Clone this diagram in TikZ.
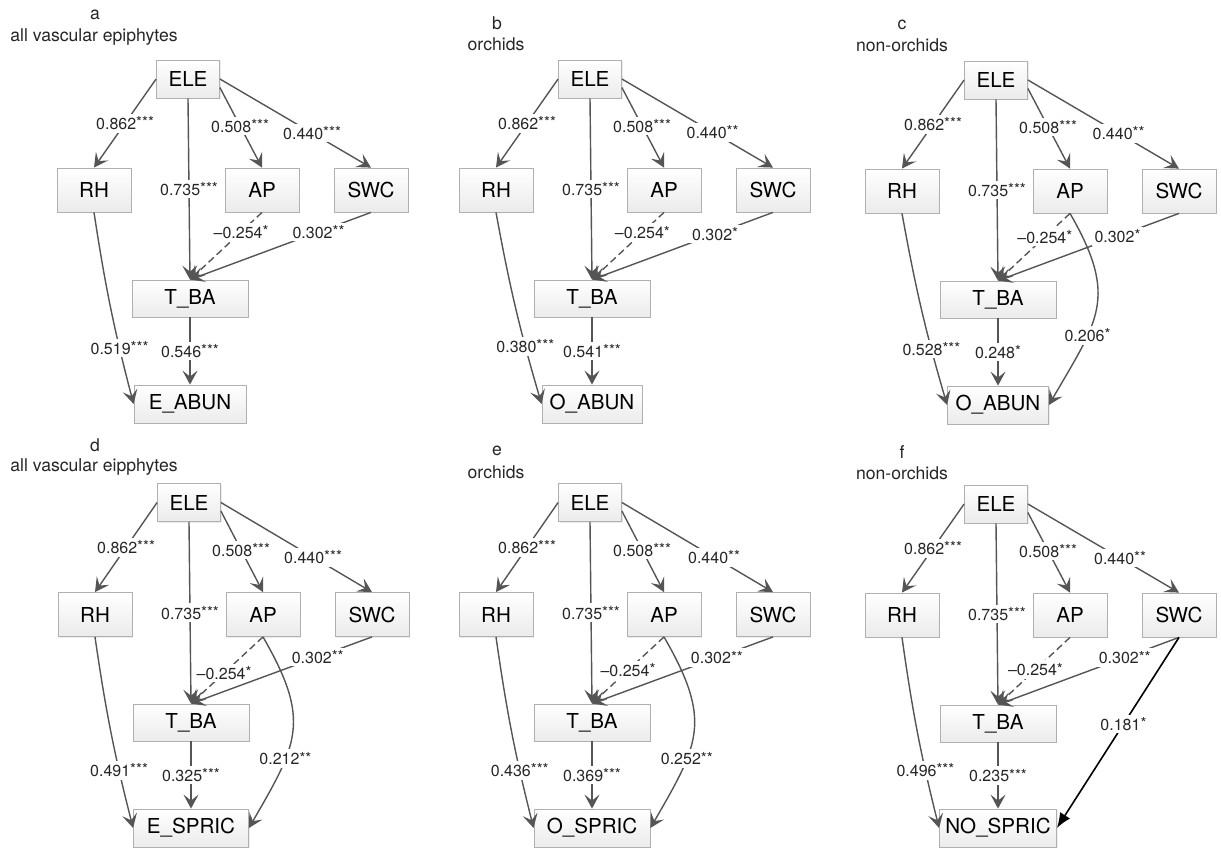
\documentclass[tikz,border=0pt]{standalone}
\usepackage{fontspec}
\setmainfont{TeX Gyre Heros}
\usetikzlibrary{arrows.meta,shadows}
\definecolor{edgegray}{HTML}{555555}
\definecolor{boxline}{HTML}{B0B0B0}
\definecolor{boxfill}{HTML}{EBEBEB}
\newcommand{\stars}[1]{\raisebox{0.9pt}{\fontsize{7.6}{7.6}\selectfont #1}}

\begin{document}
\begin{tikzpicture}[x=0.5pt, y=0.5pt,
  varbox/.style={draw=boxline, top color=white, bottom color=boxfill, inner sep=0pt,
    drop shadow={shadow xshift=0.5pt, shadow yshift=-0.5pt, opacity=0.15},
    font=\fontsize{10.3}{12}\selectfont, minimum width=37pt, minimum height=22pt},
  elebox/.style={varbox, minimum width=31.5pt, minimum height=19pt},
  tbabox/.style={varbox, minimum width=58pt, minimum height=18.5pt},
  respbox/.style={varbox, minimum width=56pt, minimum height=19pt},
  link/.style={draw=edgegray, line width=0.7pt, -{Stealth[length=7pt,width=7.5pt,inset=3pt]}},
  neglink/.style={link, dash pattern=on 3.5pt off 2pt},
  strong/.style={draw=black, line width=0.8pt, -{Latex[length=7.5pt,width=6pt]}},
  coef/.style={fill=white, inner sep=1.4pt, text=black!85, font=\fontsize{8}{9}\selectfont},
  paneltitle/.style={inner sep=0pt, text=black!85, font=\fontsize{8.8}{10}\selectfont}
]
\useasboundingbox (0,0) rectangle (1221,-847);

% a -- all vascular epiphytes, abundance
\begin{scope}[shift={(188,-79)}]
\node[paneltitle] (ttl-a) at (-93,64) {a};
\node[paneltitle] (sub-a) at (-94,42) {all vascular epiphytes};
\node[elebox] (ele-a) at (0,0) {ELE};
\node[varbox] (rh-a) at (-94,-111) {RH};
\node[varbox] (ap-a) at (74,-111) {AP};
\node[varbox] (swc-a) at (183,-111) {SWC};
\node[tbabox] (tba-a) at (2,-219.5) {T\_BA};
\node[respbox] (out-a) at (2,-325) {E\_ABUN};
\draw[link] (ele-a.west) -- node[coef] {0.862\stars{***}} (rh-a.north);
\draw[link] (ele-a.south) -- node[coef] {0.735\stars{***}} (tba-a.north);
\draw[link] (ele-a.-15) -- node[coef, pos=0.48] {0.508\stars{***}} (ap-a.north);
\draw[link] (ele-a.east) -- node[coef, pos=0.61] {0.440\stars{***}} (swc-a.north);
\draw[neglink] (ap-a.south) -- node[coef, pos=0.29] {–0.254\stars{*}} (tba-a.north);
\draw[link] (swc-a.south) -- node[coef, pos=0.29] {0.302\stars{**}} (tba-a.north);
\draw[link] (rh-a.south) to[bend right=3] node[coef, pos=0.72] {0.519\stars{***}} (out-a.west);
\draw[link] (tba-a.south) -- node[coef] {0.546\stars{***}} (out-a.north);
\end{scope}

% b -- orchids, abundance
\begin{scope}[shift={(590,-79)}]
\node[paneltitle] (ttl-b) at (-93,56) {b};
\node[paneltitle] (sub-b) at (-94,35) {orchids};
\node[elebox] (ele-b) at (0,0) {ELE};
\node[varbox] (rh-b) at (-94,-111) {RH};
\node[varbox] (ap-b) at (74,-111) {AP};
\node[varbox] (swc-b) at (183,-111) {SWC};
\node[tbabox] (tba-b) at (2,-219.5) {T\_BA};
\node[respbox, minimum width=50pt] (out-b) at (2,-325) {O\_ABUN};
\draw[link] (ele-b.west) -- node[coef] {0.862\stars{***}} (rh-b.north);
\draw[link] (ele-b.south) -- node[coef] {0.735\stars{***}} (tba-b.north);
\draw[link] (ele-b.-15) -- node[coef, pos=0.48] {0.508\stars{***}} (ap-b.north);
\draw[link] (ele-b.east) -- node[coef, pos=0.6] {0.440\stars{**}} (swc-b.north);
\draw[neglink] (ap-b.south) -- node[coef, pos=0.3] {–0.254\stars{*}} (tba-b.north);
\draw[link] (swc-b.south) -- node[coef, pos=0.32] {0.302\stars{*}} (tba-b.north);
\draw[link] (rh-b.south) to[bend right=3] node[coef, pos=0.71] {0.380\stars{***}} (out-b.west);
\draw[link] (tba-b.south) -- node[coef] {0.541\stars{***}} (out-b.north);
\end{scope}

% c -- non-orchids, abundance
\begin{scope}[shift={(996,-80)}]
\node[paneltitle] (ttl-c) at (-94,55) {c};
\node[paneltitle] (sub-c) at (-94,35) {non-orchids};
\node[elebox] (ele-c) at (0,0) {ELE};
\node[varbox] (rh-c) at (-94,-111) {RH};
\node[varbox] (ap-c) at (74,-111) {AP};
\node[varbox] (swc-c) at (183,-111) {SWC};
\node[tbabox] (tba-c) at (2,-219.5) {T\_BA};
\node[respbox, minimum width=50.5pt] (out-c) at (2,-325) {O\_ABUN};
\draw[link] (ele-c.west) -- node[coef] {0.862\stars{***}} (rh-c.north);
\draw[link] (ele-c.south) -- node[coef] {0.735\stars{***}} (tba-c.north);
\draw[link] (ele-c.-15) -- node[coef, pos=0.48] {0.508\stars{***}} (ap-c.north);
\draw[link] (ele-c.east) -- node[coef, pos=0.6] {0.440\stars{**}} (swc-c.north);
\draw[neglink] (ap-c.south) -- node[coef, pos=0.35] {–0.254\stars{*}} (tba-c.north);
\draw[link] (swc-c.south) -- node[coef, pos=0.34] {0.302\stars{*}} (tba-c.north);
\draw[link] (rh-c.south) to[bend right=3] node[coef, pos=0.72] {0.528\stars{***}} (out-c.west);
\draw[link] (tba-c.south) -- node[coef] {0.248\stars{*}} (out-c.north);
\draw[link] (ap-c.south) to[out=-60, in=60, looseness=1.3] node[coef, pos=0.66] {0.206\stars{*}} (out-c.east);
\end{scope}

% d -- all vascular epiphytes, species richness
\begin{scope}[shift={(189,-502.5)}]
\node[paneltitle] (ttl-d) at (-94,57.5) {d};
\node[paneltitle] (sub-d) at (-95,35.5) {all vascular eipphytes};
\node[elebox] (ele-d) at (0,0) {ELE};
\node[varbox] (rh-d) at (-94,-112) {RH};
\node[varbox] (ap-d) at (74,-112) {AP};
\node[varbox] (swc-d) at (183,-112) {SWC};
\node[tbabox] (tba-d) at (2,-220) {T\_BA};
\node[respbox, minimum width=57.5pt] (out-d) at (2,-325.5) {E\_SPRIC};
\draw[link] (ele-d.west) -- node[coef] {0.862\stars{***}} (rh-d.north);
\draw[link] (ele-d.south) -- node[coef] {0.735\stars{***}} (tba-d.north);
\draw[link] (ele-d.-15) -- node[coef, pos=0.48] {0.508\stars{***}} (ap-d.north);
\draw[link] (ele-d.east) -- node[coef, pos=0.61] {0.440\stars{***}} (swc-d.north);
\draw[neglink] (ap-d.south) -- node[coef, pos=0.54] {–0.254\stars{*}} (tba-d.north);
\draw[link] (swc-d.south) -- node[coef, pos=0.3] {0.302\stars{**}} (tba-d.north);
\draw[link] (rh-d.south) to[bend right=3] node[coef, pos=0.71] {0.491\stars{***}} (out-d.west);
\draw[link] (tba-d.south) -- node[coef] {0.325\stars{***}} (out-d.north);
\draw[link] (ap-d.south) to[out=-60, in=60, looseness=1.3] node[coef, pos=0.66] {0.212\stars{**}} (out-d.east);
\end{scope}

% e -- orchids, species richness
\begin{scope}[shift={(590,-502.5)}]
\node[paneltitle] (ttl-e) at (-93,51.5) {e};
\node[paneltitle] (sub-e) at (-94,30.5) {orchids};
\node[elebox] (ele-e) at (0,0) {ELE};
\node[varbox] (rh-e) at (-94,-112) {RH};
\node[varbox] (ap-e) at (74,-112) {AP};
\node[varbox] (swc-e) at (183,-112) {SWC};
\node[tbabox] (tba-e) at (2,-220) {T\_BA};
\node[respbox, minimum width=58pt] (out-e) at (2,-325.5) {O\_SPRIC};
\draw[link] (ele-e.west) -- node[coef] {0.862\stars{***}} (rh-e.north);
\draw[link] (ele-e.south) -- node[coef] {0.735\stars{***}} (tba-e.north);
\draw[link] (ele-e.-15) -- node[coef, pos=0.48] {0.508\stars{***}} (ap-e.north);
\draw[link] (ele-e.east) -- node[coef, pos=0.61] {0.440\stars{**}} (swc-e.north);
\draw[neglink] (ap-e.south) -- node[coef, pos=0.5] {–0.254\stars{*}} (tba-e.north);
\draw[link] (swc-e.south) -- node[coef, pos=0.31] {0.302\stars{**}} (tba-e.north);
\draw[link] (rh-e.south) to[bend right=3] node[coef, pos=0.71] {0.436\stars{***}} (out-e.west);
\draw[link] (tba-e.south) -- node[coef] {0.369\stars{***}} (out-e.north);
\draw[link] (ap-e.south) to[out=-60, in=60, looseness=1.3] node[coef, pos=0.66] {0.252\stars{**}} (out-e.east);
\end{scope}

% f -- non-orchids, species richness
\begin{scope}[shift={(996,-504)}]
\node[paneltitle] (ttl-f) at (-94,52) {f};
\node[paneltitle] (sub-f) at (-94,31) {non-orchids};
\node[elebox] (ele-f) at (0,0) {ELE};
\node[varbox] (rh-f) at (-94,-111) {RH};
\node[varbox] (ap-f) at (74,-111) {AP};
\node[varbox] (swc-f) at (183,-111) {SWC};
\node[tbabox] (tba-f) at (2,-219.5) {T\_BA};
\node[respbox, minimum width=58.5pt] (out-f) at (2,-324) {NO\_SPRIC};
\draw[link] (ele-f.west) -- node[coef] {0.862\stars{***}} (rh-f.north);
\draw[link] (ele-f.south) -- node[coef] {0.735\stars{***}} (tba-f.north);
\draw[link] (ele-f.-15) -- node[coef, pos=0.48] {0.508\stars{***}} (ap-f.north);
\draw[link] (ele-f.east) -- node[coef, pos=0.61] {0.440\stars{**}} (swc-f.north);
\draw[neglink] (ap-f.south) -- node[coef, pos=0.48] {–0.254\stars{*}} (tba-f.north);
\draw[link] (swc-f.south) -- node[coef, pos=0.3] {0.302\stars{**}} (tba-f.north);
\draw[link] (rh-f.south) to[bend right=3] node[coef, pos=0.71] {0.496\stars{***}} (out-f.west);
\draw[link] (tba-f.south) -- node[coef] {0.235\stars{***}} (out-f.north);
\draw[strong] (swc-f.south) -- node[coef, pos=0.455] {0.181\stars{*}} (out-f.east);
\end{scope}
\end{tikzpicture}
\end{document}
